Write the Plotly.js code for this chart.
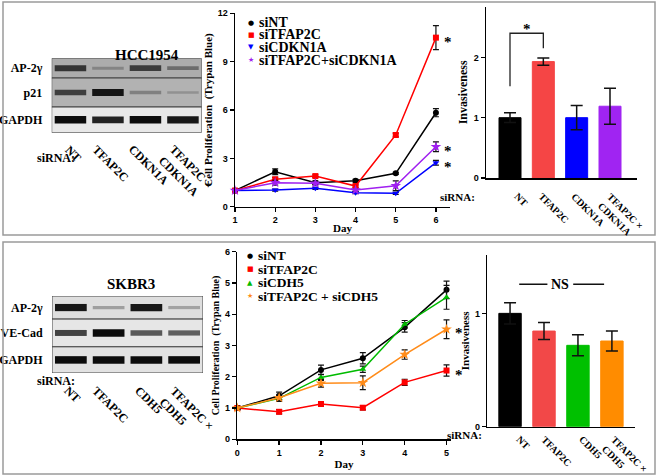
<!DOCTYPE html>
<html><head><meta charset="utf-8">
<script src="https://cdn.plot.ly/plotly-3.0.1.min.js"></script>
<style>html,body{margin:0;padding:0;background:#fff;}#plot{width:658px;height:476px;}</style>
</head><body><div id="plot"></div>
<script>
// ---------------- DATA ----------------
// HCC1954 proliferation (days 1..6)
const hccDays = [1, 2, 3, 4, 5, 6];
const hccNames = ['siNT', 'siTFAP2C', 'siCDKN1A', 'siTFAP2C+siCDKN1A'];
const hccNT      = [1.0, 2.17, 1.49, 1.61, 2.07, 5.83];
const hccTFAP2C  = [1.0, 1.70, 1.90, 1.28, 4.45, 10.49];
const hccCDKN1A  = [1.0, 1.03, 1.14, 0.87, 0.83, 2.73];
const hccCombo   = [1.0, 1.49, 1.45, 1.03, 1.30, 3.72];
const hccNTErr     = [0, 0.18, 0.12, 0.08, 0.06, 0.25];
const hccTFAP2CErr = [0, 0.12, 0.08, 0.08, 0.12, 0.75];
const hccCDKN1AErr = [0, 0.06, 0.06, 0.06, 0.06, 0.15];
const hccComboErr  = [0, 0.15, 0.10, 0.06, 0.30, 0.30];
const hccSig = [false, true, true, true];

// HCC1954 invasion
const hccBarCats = ['NT', 'TFAP2C', 'CDKN1A', 'TFAP2C ×<br>CDKN1A'];
const hccInv    = [1.0, 1.93, 1.0, 1.19];
const hccInvErr = [0.08, 0.06, 0.20, 0.30];

// HCC1954 western blot (band darkness 0..1)
const hccBlotLanes = ['NT', 'TFAP2C', 'CDKN1A', 'TFAP2C ×<br>CDKN1A'];
const hccBlotRows  = ['AP-2γ', 'p21', 'GAPDH'];
const hccBandAP2g  = [0.75, 0.25, 0.70, 0.40];
const hccBandP21   = [0.70, 0.95, 0.30, 0.20];
const hccBandGAPDH = [1.0, 0.90, 1.0, 0.95];

// SKBR3 proliferation (days 0..5)
const skDays = [0, 1, 2, 3, 4, 5];
const skNames = ['siNT', 'siTFAP2C', 'siCDH5', 'siTFAP2C + siCDH5'];
const skNT     = [1.0, 1.39, 2.22, 2.59, 3.58, 4.78];
const skTFAP2C = [1.0, 0.88, 1.13, 1.01, 1.82, 2.20];
const skCDH5   = [1.0, 1.31, 1.98, 2.24, 3.68, 4.54];
const skCombo  = [1.0, 1.33, 1.79, 1.81, 2.71, 3.52];
const skNTErr     = [0.05, 0.12, 0.15, 0.18, 0.15, 0.28];
const skTFAP2CErr = [0.05, 0.07, 0.07, 0.07, 0.10, 0.18];
const skCDH5Err   = [0.05, 0.10, 0.10, 0.10, 0.12, 0.38];
const skComboErr  = [0.05, 0.08, 0.12, 0.22, 0.15, 0.30];
const skSig = [false, true, false, true];

// SKBR3 invasion
const skBarCats = ['NT', 'TFAP2C', 'CDH5', 'TFAP2C ×<br>CDH5'];
const skInv    = [1.0, 0.844, 0.718, 0.756];
const skInvErr = [0.094, 0.075, 0.093, 0.088];

// SKBR3 western blot
const skBlotLanes = ['NT', 'TFAP2C', 'CDH5', 'TFAP2C ×<br>CDH5'];
const skBlotRows  = ['AP-2γ', 'VE-Cad', 'GAPDH'];
const skBandAP2g  = [0.95, 0.30, 0.95, 0.28];
const skBandVECad = [0.75, 1.0, 0.65, 0.62];
const skBandGAPDH = [1.0, 1.0, 1.0, 1.0];

// ---------------- STYLE ----------------
const W = 658, H = 476;
const X = p => p / W, Y = p => 1 - p / H;
const SERIF = 'Liberation Serif, Times New Roman, serif';
const SANS = 'Liberation Sans, Arial, sans-serif';
const lineColorsTop = ['#000000', '#ff0000', '#0000ff', '#a020f0'];
const lineColorsBot = ['#000000', '#ff0000', '#00bb00', '#ff8c1a'];
const symTop = ['circle', 'square', 'triangle-down', 'star'];
const symBot = ['circle', 'square', 'triangle-up', 'star'];
const glyphTop = ['●', '■', '▼', '★'];
const glyphBot = ['●', '■', '▲', '★'];
const barColorsTop = ['#000000', '#f54545', '#0000ff', '#a024f2'];
const barColorsBot = ['#000000', '#f24848', '#00c000', '#ff8c00'];
const bfont = s => ({family: SERIF, size: s, color: '#000', weight: 'bold'});

const traces = [];
const shapes = [];
const annotations = [];

function addLines(days, series, errs, colors, syms, xa, ya, sig) {
  series.forEach((s, i) => {
    traces.push({
      type: 'scatter', mode: 'lines+markers', x: days, y: s,
      xaxis: xa, yaxis: ya, showlegend: false, cliponaxis: false,
      line: {color: colors[i], width: 1.5},
      marker: {color: colors[i], symbol: syms[i], size: syms[i] === 'star' ? 8 : 6},
      error_y: {type: 'data', array: errs[i], color: '#111', thickness: 1.2, width: 3}
    });
    if (sig[i]) {
      annotations.push({xref: xa, yref: ya, x: days[days.length - 1], y: s[s.length - 1],
        text: '*', showarrow: false, xshift: 12, yshift: -4, font: bfont(15)});
    }
  });
}
addLines(hccDays, [hccNT, hccTFAP2C, hccCDKN1A, hccCombo],
  [hccNTErr, hccTFAP2CErr, hccCDKN1AErr, hccComboErr], lineColorsTop, symTop, 'x', 'y', hccSig);
addLines(skDays, [skNT, skTFAP2C, skCDH5, skCombo],
  [skNTErr, skTFAP2CErr, skCDH5Err, skComboErr], lineColorsBot, symBot, 'x4', 'y4', skSig);

// rotated category labels (drawn at category positions of an axis)
function addRotLabels(labels, xa, firstPos, yTopPx, xshift, size) {
  labels.forEach((t, i) => {
    annotations.push({xref: xa, yref: 'paper', x: firstPos + i,
      y: Y(yTopPx), text: t, showarrow: false, textangle: 45, align: 'left',
      xanchor: 'center', yanchor: 'top', xshift: xshift, font: bfont(size)});
  });
}

function addBars(vals, errs, colors, xa, ya) {
  traces.push({
    type: 'bar', x: vals.map((v, i) => i), y: vals, xaxis: xa, yaxis: ya, width: 0.66,
    showlegend: false,
    marker: {color: colors, line: {color: colors, width: 1}},
    error_y: {type: 'data', array: errs, color: '#111', thickness: 1.5, width: 6}
  });
}
addBars(hccInv, hccInvErr, barColorsTop, 'x2', 'y2');
addBars(skInv, skInvErr, barColorsBot, 'x5', 'y5');
addRotLabels(hccBarCats, 'x2', 0, 188, 11, 10);
addRotLabels(skBarCats, 'x5', 0, 431, 13, 10);

// blots
function addBlot(rows, edges, bgLevels, xa, ya) {
  rows.forEach((row, r) => {
    const y0 = edges[r], y1 = edges[r + 1], yc = (y0 + y1) / 2;
    const bg = bgLevels[r];
    shapes.push({type: 'rect', xref: xa, yref: ya, x0: 0.5, x1: 4.5, y0: y0, y1: y1,
      fillcolor: `rgb(${bg},${bg},${bg})`, line: {color: '#444', width: 1}, layer: 'below'});
    row.forEach((v, l) => {
      const g = Math.round(bg * (1 - v) + 12 * v);
      traces.push({type: 'scatter', mode: 'lines', x: [l + 1 - 0.42, l + 1 + 0.42], y: [yc, yc],
        xaxis: xa, yaxis: ya, showlegend: false, hoverinfo: 'skip',
        line: {color: `rgb(${g},${g},${g})`, width: 1.5 + 6 * v}});
    });
  });
}
addBlot([hccBandAP2g, hccBandP21, hccBandGAPDH], [0, 0.265, 0.655, 1], [172, 178, 232], 'x3', 'y3');
addBlot([skBandAP2g, skBandVECad, skBandGAPDH], [0, 0.30, 0.66, 1], [222, 230, 226], 'x6', 'y6');
addRotLabels(hccBlotLanes, 'x3', 1, 140, 3, 12);
addRotLabels(skBlotLanes, 'x6', 1, 381, 2, 12);

// legends (manual, compact)
function addLegend(names, colors, glyphs, x0, ys, size) {
  names.forEach((n, i) => {
    annotations.push({xref: 'paper', yref: 'paper', x: X(x0 - 6), y: Y(ys[i]), text: glyphs[i],
      showarrow: false, xanchor: 'center', yanchor: 'middle',
      font: {family: 'DejaVu Sans', size: 7, color: colors[i]}});
    annotations.push({xref: 'paper', yref: 'paper', x: X(x0), y: Y(ys[i]), text: n,
      showarrow: false, xanchor: 'left', yanchor: 'middle', font: bfont(size)});
  });
}
addLegend(hccNames, lineColorsTop, glyphTop, 257, [22.5, 35, 47.5, 60], 14);
addLegend(skNames, lineColorsBot, glyphBot, 256, [255.5, 269, 282.5, 296], 13.5);

// significance marks on bar charts
shapes.push({type: 'path', xref: 'x2', yref: 'y2', path: 'M0,1.52 L0,2.40 L1,2.40 L1,2.15',
  line: {color: '#222', width: 1.3}});
annotations.push({xref: 'x2', yref: 'y2', x: 0.5, y: 2.40, text: '*', showarrow: false, yshift: 4, font: bfont(15)});
shapes.push({type: 'line', xref: 'x5', yref: 'y5', x0: 0.27, x1: 1.10, y0: 1.257, y1: 1.257, line: {color: '#111', width: 1.3}});
shapes.push({type: 'line', xref: 'x5', yref: 'y5', x0: 1.86, x1: 2.77, y0: 1.257, y1: 1.257, line: {color: '#111', width: 1.3}});
annotations.push({xref: 'x5', yref: 'y5', x: 1.48, y: 1.257, text: 'NS', showarrow: false, font: bfont(14)});

// blot titles and siRNA labels
annotations.push({xref: 'paper', yref: 'paper', x: X(113), y: Y(45), text: 'HCC1954', showarrow: false, font: bfont(15)});
annotations.push({xref: 'paper', yref: 'paper', x: X(105), y: Y(284), text: 'SKBR3', showarrow: false, font: bfont(15)});
[[35, 149, 12], [35, 390, 12], [477, 197, 11], [484, 443, 11]].forEach(p => {
  annotations.push({xref: 'paper', yref: 'paper', x: X(p[0]), y: Y(p[1]), text: 'siRNA:', showarrow: false, font: bfont(p[2])});
});

// panel borders
[[3, 2, 655, 235], [3, 242, 655, 474]].forEach(b => {
  shapes.push({type: 'rect', xref: 'paper', yref: 'paper', x0: X(b[0]), x1: X(b[2]), y0: Y(b[3]), y1: Y(b[1]),
    line: {color: '#9a9a9a', width: 1.5}});
});

// ---------------- AXES ----------------
const tickFont = {family: SANS, size: 9, color: '#000', weight: 'bold'};
function lineAxis(dom, range, extra) {
  return Object.assign({domain: dom, range: range, showline: true, linecolor: '#000', linewidth: 1.5,
    ticks: 'outside', ticklen: 4, tickwidth: 1.3, tickcolor: '#000', showgrid: false, zeroline: false,
    tickfont: tickFont, fixedrange: true}, extra || {});
}
function blotAxisX(dom, anchor) {
  return {domain: dom, range: [0.5, 4.5], showgrid: false, zeroline: false, showline: false,
    showticklabels: false, ticks: '', anchor: anchor};
}
function blotAxisY(dom, labels, edges, anchor) {
  return {domain: dom, range: [1, 0], showgrid: false, zeroline: false, showline: false,
    tickvals: labels.map((l, i) => (edges[i] + edges[i + 1]) / 2), ticktext: labels,
    ticks: 'outside', ticklen: 6, tickcolor: 'rgba(0,0,0,0)', tickfont: bfont(12), anchor: anchor};
}
function barXAxis(dom, range, anchor) {
  return lineAxis(dom, range, {showticklabels: false, ticks: '', anchor: anchor});
}
const axTitle = (t, s, st) => ({text: t, font: bfont(s), standoff: st});

const layout = {
  width: W, height: H, margin: {l: 0, r: 0, t: 0, b: 0}, paper_bgcolor: '#fff', plot_bgcolor: 'rgba(0,0,0,0)',
  showlegend: false, bargap: 0,
  xaxis: lineAxis([X(235), X(450)], [1, 6.35], {tickvals: hccDays, anchor: 'y', title: axTitle('Day', 11, 0)}),
  yaxis: lineAxis([Y(206.7), Y(13.3)], [0, 12], {tickvals: [0, 3, 6, 9, 12], anchor: 'x', title: axTitle('Cell Proliferation  (Trypan Blue)', 11, 3)}),
  xaxis2: barXAxis([X(486), X(637)], [-0.72, 3.81], 'y2'),
  yaxis2: lineAxis([Y(178), Y(6.7)], [0, 2.84], {tickvals: [0, 1, 2], anchor: 'x2', title: axTitle('Invasiveness', 12, 3)}),
  xaxis3: blotAxisX([X(51.7), X(201.7)], 'y3'),
  yaxis3: blotAxisY([Y(132.7), Y(58.3)], hccBlotRows, [0, 0.265, 0.655, 1], 'x3'),
  xaxis4: lineAxis([X(237.3), X(450.7)], [0, 5.1], {tickvals: skDays, anchor: 'y4', title: axTitle('Day', 11, 3)}),
  yaxis4: lineAxis([Y(439.3), Y(251.7)], [0, 6], {tickvals: [0, 1, 2, 3, 4, 5, 6], anchor: 'x4', title: axTitle('Cell Proliferation  (Trypan Blue)', 10, 3)}),
  xaxis5: barXAxis([X(487.3), X(635)], [-0.67, 3.68], 'y5'),
  yaxis5: lineAxis([Y(426.7), Y(255)], [0, 1.515], {tickvals: [0, 1], anchor: 'x5', title: axTitle('Invasiveness', 11, 3)}),
  xaxis6: blotAxisX([X(52), X(203)], 'y6'),
  yaxis6: blotAxisY([Y(373), Y(296)], skBlotRows, [0, 0.30, 0.66, 1], 'x6'),
  shapes: shapes, annotations: annotations
};
Plotly.newPlot('plot', traces, layout, {displayModeBar: false, staticPlot: true});
</script></body></html>
